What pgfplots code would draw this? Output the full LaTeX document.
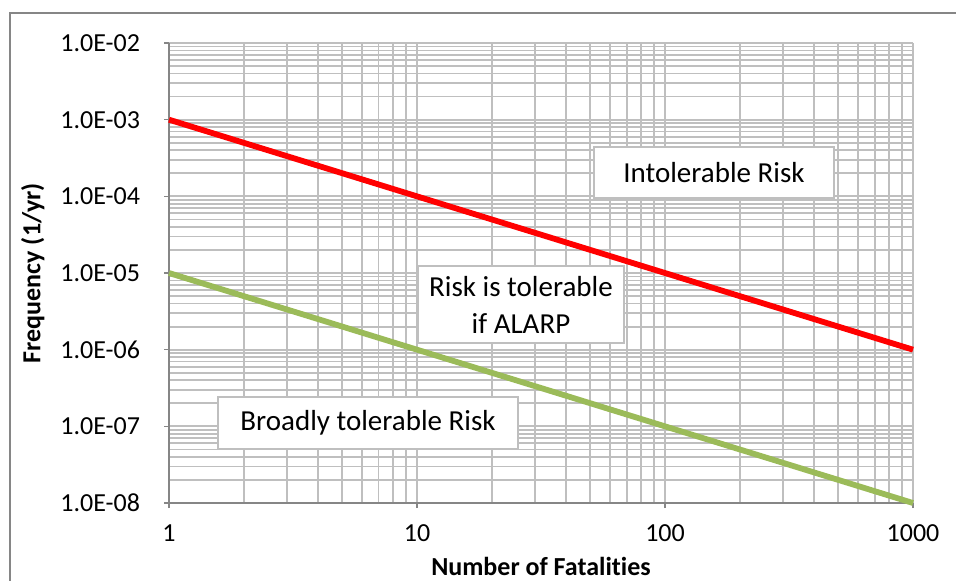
\documentclass[border=0pt]{standalone}
\usepackage{pgfplots}
\pgfplotsset{compat=1.18}
\usepackage{fontspec}
\setmainfont{Carlito}[Ligatures=NoCommon]
\definecolor{gridgray}{HTML}{BFBFBF}
\definecolor{axisgray}{HTML}{868686}
\definecolor{riskred}{HTML}{FF0000}
\definecolor{riskgreen}{HTML}{9BBB59}
\begin{document}
\begin{tikzpicture}[x=0.5pt,y=0.5pt]
\useasboundingbox (0,0) rectangle (956,580);
% chart area frame (only left and top edges are inside the picture)
\draw[axisgray, line width=0.7pt] (10,-10) -- (10,567) -- (970,567);
\begin{axis}[
    at={(84.5pt,38.5pt)}, anchor=south west,
    scale only axis, width=372pt, height=230pt,
    xmode=log, ymode=log,
    xmin=1, xmax=1000, ymin=1e-8, ymax=1e-2,
    axis lines=left,
    axis line style={-, axisgray, line width=0.8pt},
    tick align=outside,
    major tick length=2.5pt, minor tick length=0pt,
    tick style={axisgray, line width=0.8pt},
    grid=both,
    major grid style={gridgray, line width=0.9pt},
    minor grid style={gridgray, line width=0.9pt},
    xtick={1,10,100,1000},
    xticklabels={1,10,100,1000},
    ytick={1e-8,1e-7,1e-6,1e-5,1e-4,1e-3,1e-2},
    yticklabels={1.0E-08,1.0E-07,1.0E-06,1.0E-05,1.0E-04,1.0E-03,1.0E-02},
    tick label style={font=\fontsize{13}{15}\selectfont, black},
    yticklabel style={xshift=-8.5pt},
    xticklabel style={yshift=-5pt},
    xlabel={Number of Fatalities},
    ylabel={Frequency (1/yr)},
    label style={font=\fontsize{13}{15}\selectfont\bfseries},
    xlabel style={at={(axis description cs:0.5,-0.137)}, anchor=center},
    ylabel style={at={(axis description cs:-0.183,0.5)}, anchor=center},
    clip=false,
]
% upper (intolerable) criterion line
\addplot[riskred, line width=2.9pt] coordinates {(1,1e-3)(1000,1e-6)};
% lower (broadly tolerable) criterion line
\addplot[riskgreen, line width=2.9pt] coordinates {(1,1e-5)(1000,1e-8)};
% region labels
\node[draw=gridgray, line width=1pt, fill=white, minimum width=120pt, minimum height=25.5pt,
      font=\fontsize{14.5}{18.5}\selectfont] at (rel axis cs:0.7325,0.7185) {Intolerable Risk};
\node[draw=gridgray, line width=1pt, fill=white, minimum width=103pt, minimum height=38.5pt,
      align=center, font=\fontsize{14.5}{18.5}\selectfont] at (rel axis cs:0.4731,0.4315)
      {Risk is tolerable\\if ALARP};
\node[draw=gridgray, line width=1pt, fill=white, minimum width=150pt, minimum height=26pt,
      font=\fontsize{14.5}{18.5}\selectfont] at (rel axis cs:0.2675,0.1739) {Broadly tolerable Risk};
\end{axis}
\end{tikzpicture}
\end{document}
